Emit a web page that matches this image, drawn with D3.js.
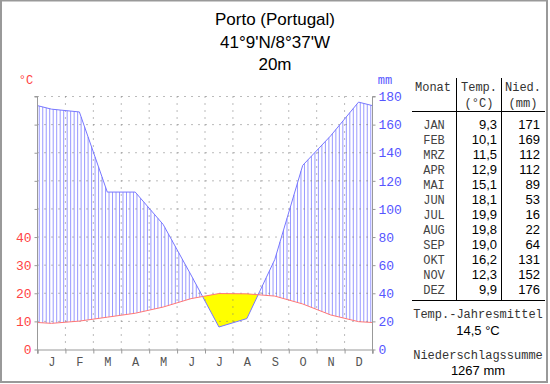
<!DOCTYPE html>
<html>
<head>
<meta charset="utf-8">
<script src="https://cdn.jsdelivr.net/npm/d3@7"></script>
<style>
  body { margin: 0; background: #fff; }
  svg { display: block; }
</style>
</head>
<body>
<script>
// climate diagram Porto
var titleLines = ["Porto (Portugal)", "41°9'N/8°37'W", "20m"];
var monthNames = ["JAN", "FEB", "MRZ", "APR", "MAI", "JUN", "JUL", "AUG", "SEP", "OKT", "NOV", "DEZ"];
var monthLetters = ["J", "F", "M", "A", "M", "J", "J", "A", "S", "O", "N", "D"];
var temp = [9.3, 10.1, 11.5, 12.9, 15.1, 18.1, 19.9, 19.8, 19.0, 16.2, 12.3, 9.9];
var precip = [171, 169, 112, 112, 89, 53, 16, 22, 64, 131, 152, 176];
var tempTicks = [0, 10, 20, 30, 40, 50, 60, 70, 80, 90];
var tempLabels = [0, 10, 20, 30, 40];
var precipTicks = [0, 20, 40, 60, 80, 100, 120, 140, 160, 180];
var meanLabel = "Temp.-Jahresmittel";
var meanValue = "14,5 °C";
var sumLabel = "Niederschlagssumme";
var sumValue = "1267 mm";

var W = 550, H = 384;
var mono = "'Liberation Mono', 'Courier New', monospace";
var sans = "'Liberation Sans', Arial, sans-serif";

var svg = d3.select("body").append("svg")
  .attr("width", W).attr("height", H);

var x = d3.scaleLinear().domain([0, 12]).range([37.5, 372.5]);
var yT = d3.scaleLinear().domain([0, 90]).range([349.5, 96.5]);
var yP = d3.scaleLinear().domain([0, 180]).range([349.5, 96.5]);

// knots: month centres plus wrapped edges
var kx = [0].concat(d3.range(12).map(function(i) { return i + 0.5; }), [12]);
function wrap(arr) {
  var e = (arr[0] + arr[11]) / 2;
  return [e].concat(arr, [e]);
}
var kT = wrap(temp);
var kP = wrap(precip.map(function(p) { return p / 2; })); // in degC units

function interp(k, xv) {
  for (var i = 0; i < kx.length - 1; i++) {
    if (xv >= kx[i] && xv <= kx[i + 1]) {
      var t = (xv - kx[i]) / (kx[i + 1] - kx[i]);
      return k[i] + t * (k[i + 1] - k[i]);
    }
  }
  return k[k.length - 1];
}

// hatch (humid)
var hatch = svg.append("g");
d3.range(1 / 16, 12, 1 / 8).forEach(function(xv) {
  var t = interp(kT, xv), p = interp(kP, xv);
  if (p > t) {
    hatch.append("line")
      .attr("x1", x(xv)).attr("x2", x(xv))
      .attr("y1", yT(t)).attr("y2", yT(p))
      .style("stroke", "#9999ff").style("stroke-width", 1);
  }
});

// arid area: add crossing points
var pts = [];
for (var i = 0; i < kx.length; i++) {
  pts.push({x: kx[i], t: kT[i], p: kP[i]});
  if (i < kx.length - 1) {
    var d0 = kT[i] - kP[i], d1 = kT[i + 1] - kP[i + 1];
    if (d0 * d1 < 0) {
      var f = d0 / (d0 - d1);
      var cx = kx[i] + f * (kx[i + 1] - kx[i]);
      var ct = kT[i] + f * (kT[i + 1] - kT[i]);
      pts.push({x: cx, t: ct, p: ct});
    }
  }
}
svg.append("path")
  .datum(pts)
  .attr("d", d3.area()
    .defined(function(d) { return d.t >= d.p; })
    .x(function(d) { return x(d.x); })
    .y0(function(d) { return yT(d.t); })
    .y1(function(d) { return yT(d.p); }))
  .style("fill", "#ffff00").style("stroke", "none");

// dotted grid
var grid = svg.append("g").style("stroke", "#777").style("stroke-dasharray", "1,6");
tempTicks.slice(1).forEach(function(v) {
  grid.append("line")
    .attr("x1", x(0)).attr("x2", x(12))
    .attr("y1", yT(v)).attr("y2", yT(v));
});
d3.range(1, 12).forEach(function(m) {
  grid.append("line")
    .attr("x1", x(m)).attr("x2", x(m))
    .attr("y1", yT(90)).attr("y2", yT(0) + 4);
});

// lines
svg.append("path")
  .datum(kP)
  .attr("d", d3.line().x(function(d, i) { return x(kx[i]); }).y(function(d) { return yT(d); }))
  .style("fill", "none").style("stroke", "#7777ff").style("stroke-width", 1);
svg.append("path")
  .datum(kT)
  .attr("d", d3.line().x(function(d, i) { return x(kx[i]); }).y(function(d) { return yT(d); }))
  .style("fill", "none").style("stroke", "#ff7777").style("stroke-width", 1);

// axes
var left = svg.append("g").attr("transform", "translate(" + x(0) + ",0)")
  .call(d3.axisLeft(yT).tickValues(tempTicks).tickSize(3).tickPadding(3)
    .tickFormat(function(d) { return tempLabels.indexOf(d) >= 0 ? d : ""; }));
var right = svg.append("g").attr("transform", "translate(" + x(12) + ",0)")
  .call(d3.axisRight(yP).tickValues(precipTicks).tickSize(3).tickPadding(3));
var bottom = svg.append("g").attr("transform", "translate(0," + yT(0) + ")")
  .call(d3.axisBottom(x).tickValues(d3.range(0, 13)).tickSize(4).tickFormat(""));
var letters = svg.append("g").attr("transform", "translate(0," + yT(0) + ")")
  .call(d3.axisBottom(x).tickValues(d3.range(12).map(function(i) { return i + 0.5; }))
    .tickSize(0).tickPadding(8).tickFormat(function(d, i) { return monthLetters[i]; }));
letters.select(".domain").remove();

[left, right, bottom, letters].forEach(function(g) {
  g.selectAll(".domain").style("stroke", "#999");
  g.selectAll(".tick line").style("stroke", "#999");
  g.selectAll("text").style("font-family", mono).style("font-size", "13px");
});
left.select(".domain").attr("d", "M-3," + yT(90) + "H0V" + (yT(0) + 4));
right.select(".domain").attr("d", "M3," + yT(90) + "H0V" + (yT(0) + 4));
left.selectAll("text").style("fill", "#ff4444");
right.selectAll("text").style("fill", "#5555ff");
letters.selectAll("text").style("fill", "#555").style("font-size", "12px");

svg.append("text").attr("x", 26).attr("y", 84).attr("text-anchor", "middle")
  .style("font-family", mono).style("font-size", "12px").style("fill", "#ff4444").text("°C");
svg.append("text").attr("x", 385).attr("y", 84).attr("text-anchor", "middle")
  .style("font-family", mono).style("font-size", "12px").style("fill", "#5555ff").text("mm");

// title
svg.selectAll(".title").data(titleLines).enter().append("text")
  .attr("x", 275).attr("y", function(d, i) { return 25 + i * 22.5; })
  .attr("text-anchor", "middle")
  .style("font-family", sans).style("font-size", "17px").style("fill", "#000")
  .text(function(d) { return d; });

// table
var tbl = svg.append("g");
function tline(x1, y1, x2, y2) {
  tbl.append("line").attr("x1", x1).attr("y1", y1).attr("x2", x2).attr("y2", y2)
    .style("stroke", "#000").style("stroke-width", 1);
}
tline(456.5, 78, 456.5, 300);
tline(501.5, 78, 501.5, 300);
tline(412, 111.5, 545, 111.5);
tline(412, 300.5, 545, 300.5);

function ttext(tx, ty, s, anchor, font, size, color) {
  tbl.append("text").attr("x", tx).attr("y", ty).attr("text-anchor", anchor)
    .style("font-family", font).style("font-size", size).style("fill", color || "#333").text(s);
}
ttext(433, 91, "Monat", "middle", mono, "12px");
ttext(479, 91, "Temp.", "middle", mono, "12px");
ttext(479, 107, "(°C)", "middle", mono, "12px");
ttext(523, 91, "Nied.", "middle", mono, "12px");
ttext(523, 107, "(mm)", "middle", mono, "12px");

var fmt = d3.format(".1f");
monthNames.forEach(function(m, i) {
  var ty = 128.5 + i * 15;
  ttext(434, ty, m, "middle", mono, "12px", "#444");
  ttext(497, ty, fmt(temp[i]).replace(".", ","), "end", sans, "13px", "#000");
  ttext(540, ty, precip[i], "end", sans, "13px", "#000");
});
ttext(478, 318, meanLabel, "middle", mono, "12px");
ttext(478, 335, meanValue, "middle", sans, "13px", "#000");
ttext(478, 359, sumLabel, "middle", mono, "12px");
ttext(478, 375, sumValue, "middle", sans, "13px", "#000");

// frame
svg.append("rect").attr("x", 1).attr("y", 0.5).attr("width", 546).attr("height", 381.5)
  .style("fill", "none").style("stroke", "#999").style("stroke-width", 2);
</script>
</body>
</html>
